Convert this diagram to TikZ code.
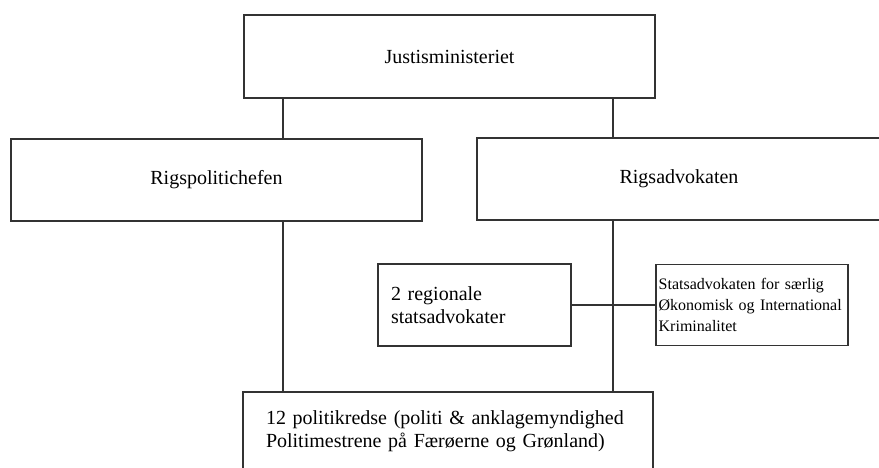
\documentclass[tikz,border=0pt]{standalone}
\usepackage{fontspec}
\setmainfont{Liberation Serif}
\usetikzlibrary{positioning}
\tikzset{
  boks/.style={draw=black!80, line width=1pt, inner sep=0pt, font=\fontsize{15}{17.5}\selectfont},
  lille/.style={font=\fontsize{12}{15.75}\selectfont},
  streg/.style={draw=black!80, line width=1pt}
}

\begin{document}
\begin{tikzpicture}[x=0.75pt,y=-0.75pt]
      \useasboundingbox (0,0) rectangle (879,468);
      \clip (0,0) rectangle (879,468); % boxes run off the page
      \node[boks, minimum width=308.25pt, minimum height=62.25pt] (justis) at (449.5,56.5) {Justisministeriet};
      \node[boks, minimum width=308.25pt, minimum height=61.5pt] (rigspoliti) at (216.5,180) {Rigspolitichefen};
      \node[boks, minimum width=303pt, minimum height=61.5pt] (rigsadv) at (679,179) {Rigsadvokaten};
      \node[boks, inner xsep=9.75pt, text width=125.25pt, align=left, minimum height=61.5pt] (regionale) at (474.5,305) {2 regionale\\statsadvokater};
      \node[boks, lille, inner xsep=2pt, text width=140pt, align=left, minimum height=61pt] (saeroek) at (752,305) {Statsadvokaten for særlig\\Økonomisk og International\\Kriminalitet};
      \node[boks, inner xsep=17.25pt, text width=273pt, align=left, minimum height=58.5pt] (kredse) at (448,431) {12 politikredse (politi \& anklagemyndighed\\Politimestrene på Færøerne og Grønland)};
      % the two vertical lines
      \coordinate (venstre) at (283,0);
      \coordinate (hoejre) at (613,0);
      \draw[streg] (justis.south -| venstre) -- (rigspoliti.north -| venstre);
      \draw[streg] (justis.south -| hoejre) -- (rigsadv.north -| hoejre);
      \draw[streg] (rigspoliti.south -| venstre) -- (kredse.north -| venstre);
      \draw[streg] (rigsadv.south -| hoejre) -- (kredse.north -| hoejre);
      \draw[streg] (regionale.east) -- (saeroek.west);
    \end{tikzpicture}
\end{document}
